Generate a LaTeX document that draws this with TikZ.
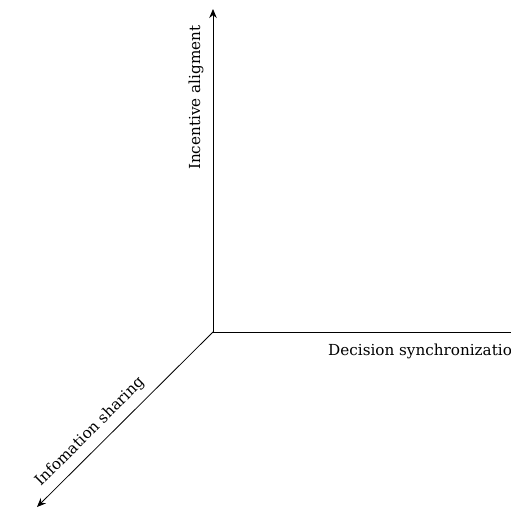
\documentclass[tikz,border=0pt]{standalone}
\usepackage{fontspec}
\setmainfont{DejaVu Serif}
\usetikzlibrary{arrows.meta}
\begin{document}
\begin{tikzpicture}[x=1pt,y=-1pt,
  axis/.style={line width=0.8pt,-{Stealth[length=9pt,width=7.5pt]}},
  lbl/.style={font=\fontsize{15.2}{17}\selectfont,inner sep=0pt}]
\clip (0,0) rectangle (511,508);
\useasboundingbox (0,0) rectangle (511,508);
\coordinate (O) at (213,332);
\coordinate (Z) at (213,9);
\coordinate (X) at (515,332);
\coordinate (Y) at (37,507);
\draw[axis] (O) -- (Z);
\draw[line width=0.8pt] (O) -- (X);
\draw[axis] (O) -- (Y);
\node[lbl,rotate=90,anchor=base west] (lz) at (200,170) {Incentive aligment};
\node[lbl,anchor=base west] (lx) at (328,355) {Decision synchronization};
\node[lbl,rotate=45,anchor=center] (ly) at (90,432) {Infomation sharing};
\end{tikzpicture}
\end{document}
